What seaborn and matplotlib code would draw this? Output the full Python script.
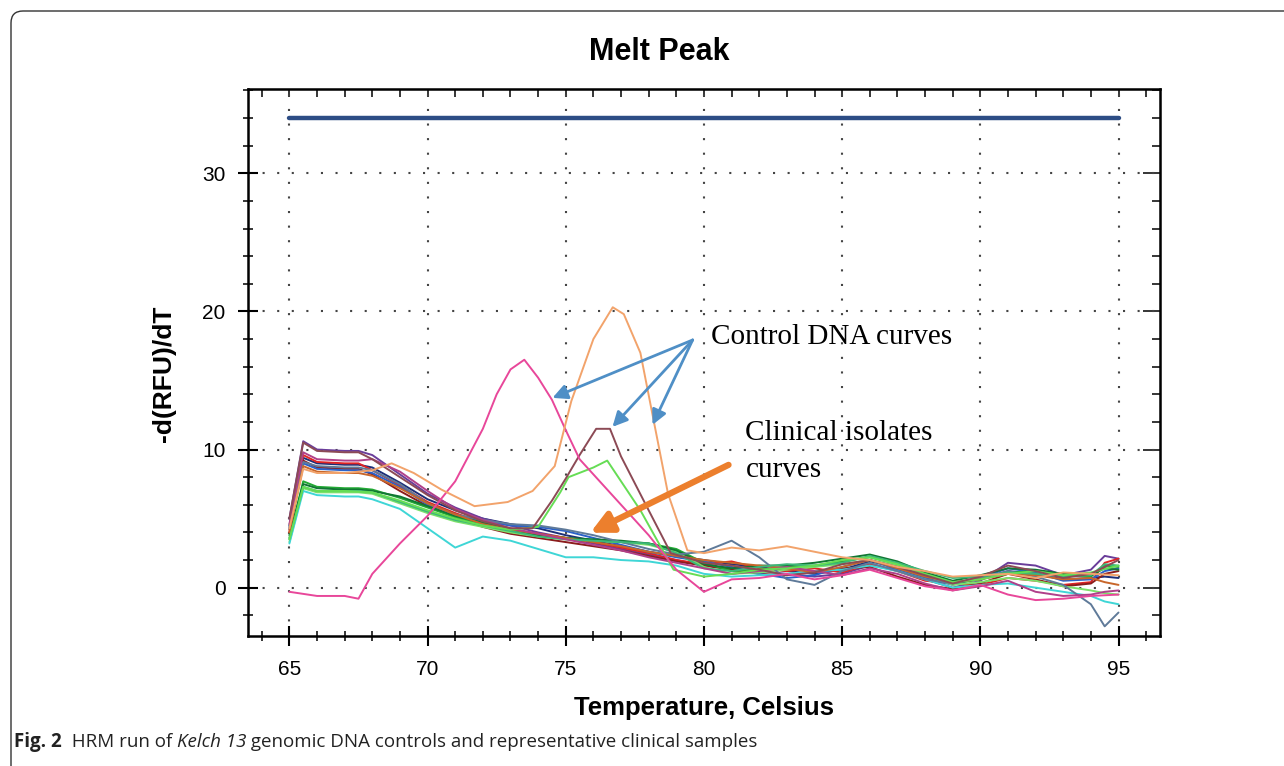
import matplotlib
matplotlib.use("Agg")
import matplotlib.pyplot as plt
import seaborn as sns
import pandas as pd
from matplotlib.patches import FancyBboxPatch
from matplotlib.ticker import MultipleLocator

# temperature grid shared by the clinical isolate curves
T_CLIN = [65, 65.5, 66, 67, 67.5, 68, 69, 70, 71, 72, 73, 74, 75, 76, 77, 78, 79, 80,
          81, 82, 83, 84, 85, 86, 87, 88, 89, 90, 91, 92, 93, 94, 94.5, 95]

# clinical isolates (-d(RFU)/dT)
navy = [4.5, 9.4, 9.0, 8.9, 8.9, 8.7, 7.6, 6.4, 5.6, 5.0, 4.6, 4.3, 3.8, 3.4, 3.0, 2.6, 2.3, 2.0,
        1.7, 1.5, 1.2, 1.0, 1.3, 1.9, 1.5, 0.8, 0.4, 0.6, 1.2, 1.0, 0.6, 0.7, 0.8, 0.7]
purple = [5.0, 10.6, 10.0, 9.9, 9.9, 9.6, 8.2, 6.8, 5.8, 5.0, 4.5, 4.0, 3.6, 3.2, 2.8, 2.4, 2.0, 1.6,
          1.4, 1.2, 1.0, 0.8, 1.0, 1.6, 1.3, 0.6, 0.0, 0.5, 1.8, 1.6, 0.9, 1.3, 2.3, 2.1]
red = [4.0, 9.6, 9.1, 9.0, 9.0, 8.5, 7.4, 6.2, 5.4, 4.7, 4.2, 3.9, 3.6, 3.3, 2.9, 2.5, 2.0, 1.7,
       1.9, 1.4, 1.2, 1.4, 1.1, 1.7, 1.2, 0.5, 0.3, 0.2, 0.7, 0.5, 0.2, 0.4, 1.8, 2.1]
darkred = [4.2, 9.2, 8.7, 8.6, 8.6, 8.2, 7.0, 5.9, 5.1, 4.4, 3.9, 3.6, 3.3, 3.0, 2.7, 2.3, 1.9, 1.6,
           1.3, 1.0, 0.9, 1.2, 1.4, 1.5, 0.8, 0.2, -0.1, 0.3, 1.0, 0.6, 0.1, 0.3, 1.0, 1.2]
blue = [4.3, 9.0, 8.6, 8.5, 8.5, 8.3, 7.3, 6.0, 5.2, 4.8, 4.5, 4.4, 4.1, 3.6, 3.1, 2.6, 2.2, 1.9,
        1.5, 1.0, 0.7, 0.9, 1.5, 2.0, 1.3, 0.7, 0.2, 0.7, 1.4, 1.1, 0.5, 0.6, 1.2, 1.4]
green = [3.6, 7.7, 7.3, 7.2, 7.2, 7.1, 6.5, 5.8, 5.1, 4.6, 4.1, 3.8, 3.6, 3.4, 3.3, 3.2, 2.8, 1.8,
         1.2, 1.3, 1.5, 1.6, 1.9, 2.2, 1.7, 1.0, 0.3, 0.6, 1.1, 1.2, 0.9, 0.8, 1.6, 1.5]
lightgreen = [3.3, 7.2, 6.9, 6.9, 6.9, 6.8, 6.1, 5.4, 4.8, 4.4, 4.0, 3.7, 3.5, 3.4, 3.3, 3.1, 2.6, 1.5,
              1.0, 1.1, 1.3, 1.5, 1.7, 2.0, 1.6, 0.9, 0.2, 0.4, 0.7, 0.5, 0.1, -0.2, -0.4, -0.5]
darkgreen = [3.8, 7.5, 7.2, 7.1, 7.1, 7.0, 6.6, 5.9, 5.2, 4.7, 4.2, 3.8, 3.6, 3.5, 3.4, 3.2, 2.7, 1.7,
             1.4, 1.6, 1.6, 1.8, 2.1, 2.4, 1.9, 1.1, 0.5, 0.9, 1.4, 1.3, 1.0, 0.9, 1.4, 1.3]
cyan = [3.2, 7.0, 6.7, 6.6, 6.6, 6.4, 5.7, 4.3, 2.9, 3.7, 3.4, 2.8, 2.2, 2.2, 2.0, 1.9, 1.6, 1.0,
        0.8, 0.9, 1.0, 1.2, 1.3, 1.6, 1.2, 0.6, 0.0, 0.2, 0.3, 0.0, -0.3, -0.6, -1.0, -1.2]
slate = [4.4, 9.1, 8.8, 8.7, 8.7, 8.5, 7.5, 6.1, 5.3, 4.9, 4.6, 4.5, 4.2, 3.8, 3.3, 2.8, 2.4, 2.6,
         3.4, 2.2, 0.6, 0.2, 1.2, 1.8, 1.2, 0.6, 0.3, 0.7, 1.2, 0.8, 0.2, -1.2, -2.8, -1.8]
rust = [4.0, 8.8, 8.4, 8.3, 8.3, 8.1, 7.2, 6.1, 5.3, 4.6, 4.2, 3.9, 3.6, 3.3, 3.0, 2.6, 2.3, 2.0,
        1.8, 1.6, 1.4, 1.1, 1.5, 2.0, 1.4, 0.8, 0.4, 0.6, 1.0, 0.9, 0.6, 0.7, 0.4, 0.2]
seagreen = [3.5, 7.3, 7.0, 7.0, 7.0, 6.9, 6.2, 5.5, 4.9, 4.5, 4.1, 3.7, 3.5, 3.4, 3.3, 3.2, 2.5, 1.4,
            1.2, 1.5, 1.7, 1.6, 1.8, 2.3, 1.8, 1.2, 0.7, 0.8, 1.1, 1.0, 0.8, 0.9, 1.7, 1.6]
plum = [4.6, 9.8, 9.3, 9.2, 9.2, 9.3, 8.4, 7.0, 5.7, 4.9, 4.3, 3.9, 3.5, 3.1, 2.7, 2.2, 1.8, 1.4,
        1.0, 1.2, 1.5, 1.2, 0.9, 1.4, 1.0, 0.3, -0.2, 0.1, 0.5, -0.3, -0.6, -0.5, -0.3, -0.2]

# control DNA curves, each on its own temperature points
MAG_T = [65, 66, 67, 67.5, 68, 69, 70, 71, 72, 72.5, 73, 73.5, 74, 74.5, 75, 75.5, 76, 77, 78, 79,
         80, 81, 82, 83, 84, 85, 86, 87, 88, 89, 90, 91, 92, 93, 94, 95]
MAG_V = [-0.3, -0.6, -0.6, -0.8, 1.0, 3.2, 5.2, 7.7, 11.5, 14.0, 15.8, 16.5, 15.2, 13.6, 11.4, 9.3,
         8.2, 6.0, 3.8, 1.3, -0.3, 0.6, 0.7, 1.0, 0.6, 0.9, 1.3, 0.7, 0.1, -0.2, 0.2, -0.5, -0.9,
         -0.8, -0.6, -0.5]
ORA_T = [65, 65.5, 66, 67, 68, 68.7, 69.5, 70.5, 71.7, 72.9, 73.8, 74.6, 75.2, 76, 76.7, 77.1, 77.7,
         78.7, 79.4, 80, 81, 82, 83, 84, 85, 86, 87, 88, 89, 90, 91, 92, 93, 94, 95]
ORA_V = [4.3, 8.6, 8.3, 8.3, 8.5, 9.0, 8.3, 7.1, 5.9, 6.2, 7.0, 8.8, 13.5, 18.0, 20.3, 19.8, 17.0,
         6.8, 2.7, 2.5, 2.9, 2.7, 3.0, 2.6, 2.2, 2.0, 1.5, 1.2, 0.8, 0.9, 1.0, 0.7, 1.1, 1.0, 0.9]
BRN_T = [65, 65.5, 66, 67, 67.5, 68, 69, 70, 71, 72, 73, 73.8, 74.5, 75, 75.5, 76.1, 76.6, 77, 78,
         78.8, 80, 81, 82, 83, 84, 85, 86, 87, 88, 89, 90, 91, 92, 93, 94, 95]
BRN_V = [5.0, 10.5, 9.9, 9.8, 9.8, 9.3, 8.0, 6.7, 5.6, 4.8, 4.3, 4.3, 6.3, 7.9, 9.6, 11.5, 11.5,
         9.5, 5.6, 2.5, 1.8, 1.6, 1.3, 0.9, 1.1, 1.7, 2.0, 1.5, 0.9, 0.3, 0.8, 1.6, 1.2, 0.7, 1.0, 2.0]
GRN_T = [65, 65.5, 66, 67, 68, 69, 70, 71, 72, 73, 74, 74.8, 75.1, 76, 76.5, 77, 77.7, 78.9,
         80, 81, 82, 83, 84, 85, 86, 87, 88, 89, 90, 91, 92, 93, 94, 95]
GRN_V = [3.5, 7.3, 7.0, 7.0, 6.9, 6.3, 5.6, 5.0, 4.5, 4.2, 4.4, 6.9, 8.0, 8.7, 9.2, 7.7, 5.6, 1.3,
         0.8, 1.0, 1.3, 1.4, 1.6, 2.0, 2.2, 1.7, 1.0, 0.4, 0.6, 1.0, 1.2, 0.9, 1.1, 1.6]

# flat threshold line at the top
BASE_T = [65, 95]
BASE_V = [34, 34]

clinical = {
    "navy": (navy, "#1d2f78"), "purple": (purple, "#6a3d9a"), "red": (red, "#e02424"),
    "darkred": (darkred, "#8b1c1c"), "blue": (blue, "#2a62c9"), "green": (green, "#22aa33"),
    "lightgreen": (lightgreen, "#7ce06a"), "darkgreen": (darkgreen, "#117733"),
    "cyan": (cyan, "#3fd6d6"), "slate": (slate, "#5f7a99"), "rust": (rust, "#c8662a"),
    "seagreen": (seagreen, "#3cb878"), "plum": (plum, "#b0408a"),
}
controls = {
    "ctrl_green": (GRN_T, GRN_V, "#66dd55"),
    "ctrl_brown": (BRN_T, BRN_V, "#8c4a55"),
    "ctrl_magenta": (MAG_T, MAG_V, "#e8479a"),
    "ctrl_orange": (ORA_T, ORA_V, "#f2a36b"),
}

frames = []
palette = {}
for name, (vals, col) in clinical.items():
    frames.append(pd.DataFrame({"temp": T_CLIN, "value": vals, "sample": name}))
    palette[name] = col
for name, (temps, vals, col) in controls.items():
    frames.append(pd.DataFrame({"temp": temps, "value": vals, "sample": name}))
    palette[name] = col
df = pd.concat(frames, ignore_index=True)
order = list(clinical) + list(controls)

sns.set_style("ticks")
plt.rcParams["font.family"] = ["Liberation Sans", "DejaVu Sans"]
plt.rcParams["text.color"] = "black"
plt.rcParams["axes.labelcolor"] = "black"

fig = plt.figure(figsize=(12.84, 7.66), dpi=100)
ax = fig.add_axes([0.1931, 0.1697, 0.7103, 0.7141])

sns.lineplot(data=df, x="temp", y="value", hue="sample", hue_order=order, palette=palette,
             estimator=None, lw=1.4, legend=False, ax=ax)
sns.lineplot(x=BASE_T, y=BASE_V, color="#2d4d85", lw=3.2, ax=ax)

ax.set_xlim(63.5, 96.5)
ax.set_ylim(-3.5, 36.1)
ax.xaxis.set_major_locator(MultipleLocator(5))
ax.xaxis.set_minor_locator(MultipleLocator(1))
ax.yaxis.set_major_locator(MultipleLocator(10))
ax.yaxis.set_minor_locator(MultipleLocator(2))
ax.grid(True, which="major", linestyle=(0, (1, 6)), color="#444444", lw=1.5)
ax.tick_params(which="major", direction="inout", length=14, width=1.5, labelsize=15,
               top=False, right=False, colors="black")
ax.tick_params(axis="x", which="major", pad=10)
ax.tick_params(axis="y", which="major", pad=9)
ax.tick_params(which="minor", direction="inout", length=7, width=1.3, top=False, right=False)
for sp in ax.spines.values():
    sp.set_linewidth(1.8)
    sp.set_color("black")

# inward ticks on top and right
secx = ax.secondary_xaxis("top")
secx.xaxis.set_major_locator(MultipleLocator(5))
secx.xaxis.set_minor_locator(MultipleLocator(1))
secx.tick_params(which="both", direction="in", length=6, width=1.3, labeltop=False)
secy = ax.secondary_yaxis("right")
secy.yaxis.set_major_locator(MultipleLocator(10))
secy.yaxis.set_minor_locator(MultipleLocator(2))
secy.tick_params(which="minor", direction="in", length=6, width=1.3, labelright=False)
secy.tick_params(which="major", direction="in", length=12, width=1.3, labelright=False)

ax.set_xlabel("Temperature, Celsius", fontsize=18.5, fontweight="bold")
ax.xaxis.set_label_coords(0.5, -0.132)
ax.xaxis.label.set_va("center")
ax.set_ylabel("-d(RFU)/dT", fontsize=19, fontweight="bold")
ax.yaxis.set_label_coords(-0.092, 0.479)
ax.yaxis.label.set_va("center")

fig.text(659 / 1284, 1 - 52 / 766, "Melt Peak", ha="center", va="center",
         fontsize=22, fontweight="bold")

# annotations
ax.text(80.24, 18.15, "Control DNA curves", family="Liberation Serif", fontsize=21,
        ha="left", va="center")
ax.text(81.5, 9.83, "Clinical isolates\ncurves", family="Liberation Serif", fontsize=21,
        ha="left", va="center", linespacing=1.55)
arrow_src = (79.59, 17.93)
for tip in [(74.52, 13.74), (76.69, 11.64), (78.14, 11.79)]:
    ax.annotate("", xy=tip, xytext=arrow_src,
                arrowprops=dict(arrowstyle="-|>", color="#4f8fc6", lw=2.0,
                                mutation_scale=22, shrinkA=0, shrinkB=0))
ax.annotate("", xy=(75.89, 3.98), xytext=(80.89, 8.89),
            arrowprops=dict(arrowstyle="-|>", color="#ec7f2d", lw=4.5,
                            mutation_scale=32, shrinkA=0, shrinkB=0))

# caption with mixed styles
fig.canvas.draw()
renderer = fig.canvas.get_renderer()
x0 = 14
cy = 766 - 742
pieces = [("Fig. 2", "bold", "normal"), ("  HRM run of ", "normal", "normal"),
          ("Kelch 13", "normal", "italic"),
          (" genomic DNA controls and representative clinical samples", "normal", "normal")]
for txt, wt, st in pieces:
    t = fig.text(x0 / 1284, cy / 766, txt, fontsize=13.5, fontweight=wt, style=st,
                 family="Open Sans", ha="left", va="center", color="#222222")
    x0 += t.get_window_extent(renderer).width

border = FancyBboxPatch((11, -30), 1320, 766 - 11 + 30, boxstyle="round,pad=0,rounding_size=12",
                        transform=None, fill=False, ec="#333333", lw=1.0)
fig.add_artist(border)

fig.savefig("out.png", dpi=100)
